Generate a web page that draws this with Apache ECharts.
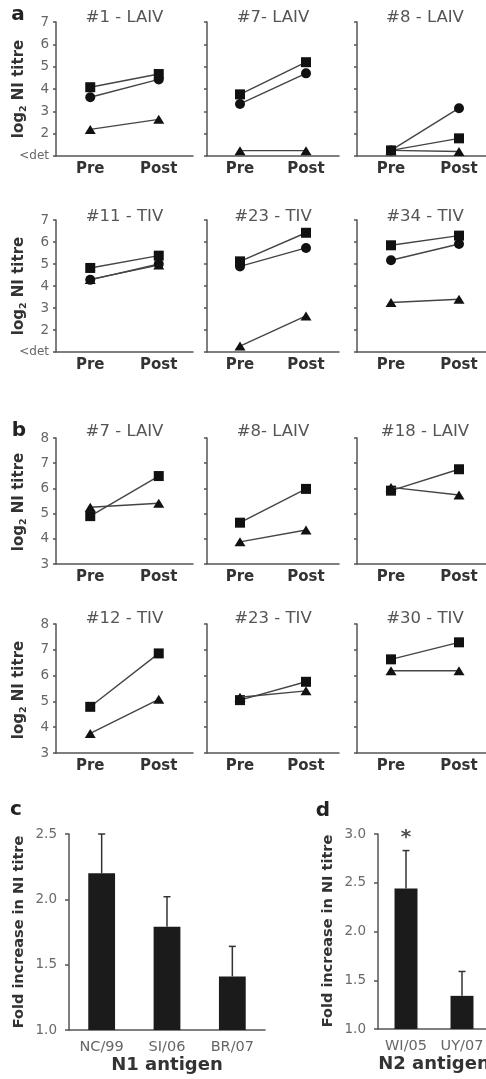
<!DOCTYPE html>
<html><head><meta charset="utf-8">
<script src="https://cdn.jsdelivr.net/npm/echarts@6/dist/echarts.min.js"></script>
<style>html,body{margin:0;padding:0;background:#fff}#c{width:486px;height:1079px}</style>
</head><body><div id="c"></div>
<script>
// ---------- DATA ----------
const prePost = ['Pre', 'Post'];
// panel a: log2 NI titre, values [Pre, Post]; 1 = "<det"
const aTitles = ['#1 - LAIV', '#7- LAIV', '#8 - LAIV', '#11 - TIV', '#23 - TIV', '#34 - TIV'];
const aSquare   = [[4.08, 4.67], [3.76, 5.20], [1.25, 1.79], [4.82, 5.38], [5.12, 6.42], [5.85, 6.29]];
const aCircle   = [[3.63, 4.43], [3.33, 4.70], [1.25, 3.14], [4.28, 5.00], [4.89, 5.73], [5.17, 5.91]];
const aTriangle = [[2.19, 2.64], [1.24, 1.24], [1.25, 1.20], [4.30, 4.95], [1.27, 2.64], [3.25, 3.40]];
const aYTicks = ['<det', '2', '3', '4', '5', '6', '7'];
// panel b
const bTitles = ['#7 - LAIV', '#8- LAIV', '#18 - LAIV', '#12 - TIV', '#23 - TIV', '#30 - TIV'];
const bSquare   = [[4.90, 6.49], [4.64, 5.98], [5.91, 6.76], [4.79, 6.86], [5.05, 5.76], [6.63, 7.29]];
const bTriangle = [[5.25, 5.41], [3.88, 4.35], [6.04, 5.74], [3.76, 5.08], [5.16, 5.41], [6.19, 6.19]];
// panel c
const cCats  = ['NC/99', 'SI/06', 'BR/07'];
const cMeans = [2.20, 1.79, 1.41];
const cUpper = [2.50, 2.02, 1.64];
// panel d
const dCats  = ['WI/05', 'UY/07'];
const dMeans = [2.44, 1.34];
const dUpper = [2.83, 1.59];
const dSig   = ['*', ''];

// ---------- LAYOUT ----------
const FONT = '"DejaVu Sans", sans-serif';
const AX = '#555';
const colLeft = [56, 207, 357], colWidth = [137, 132, 136];
const rowsA = [{top: 22, h: 134, ty: 18}, {top: 220, h: 132, ty: 216.5}];
const rowsB = [{top: 438, h: 126, ty: 431.5}, {top: 624, h: 129, ty: 619}];

const option = {
  animation: false, backgroundColor: '#fff',
  grid: [], xAxis: [], yAxis: [], series: [], graphic: []
};

function addLinePanel(p, rows, title, seriesDefs, yMin, yMax, fmt) {
  const r = rows[Math.floor(p / 3)], c = p % 3;
  const gi = option.grid.length;
  option.grid.push({left: colLeft[c], top: r.top, width: colWidth[c], height: r.h,
    containLabel: false, outerBoundsMode: 'none'});
  option.xAxis.push({
    gridIndex: gi, type: 'category', data: prePost, boundaryGap: true,
    axisLine: {lineStyle: {color: AX, width: 1.5}},
    axisTick: {alignWithLabel: true, length: 4, lineStyle: {color: AX, width: 1.5}},
    axisLabel: {margin: 6, fontSize: 15, fontWeight: 'bold', color: '#333', fontFamily: FONT}
  });
  option.yAxis.push({
    gridIndex: gi, type: 'value', min: yMin, max: yMax, interval: 1,
    axisLine: {show: true, lineStyle: {color: AX, width: 1.5}},
    axisTick: {show: true, length: 3, lineStyle: {color: AX, width: 1.5}},
    splitLine: {show: false},
    axisLabel: {show: c === 0, margin: 7, fontSize: 13.5, color: '#666', fontFamily: FONT,
      formatter: fmt, rich: {d: {fontSize: 12, color: '#666', fontFamily: FONT}}}
  });
  seriesDefs.forEach(s => {
    option.series.push({
      type: 'line', xAxisIndex: gi, yAxisIndex: gi, data: s.data,
      symbol: s.symbol, symbolSize: s.size, showSymbol: true,
      itemStyle: {color: '#111'}, lineStyle: {color: '#444', width: 1.4}, z: s.z
    });
  });
  option.graphic.push({type: 'text', x: colLeft[c] + colWidth[c] / 2, y: r.ty,
    style: {text: title, textAlign: 'center', textVerticalAlign: 'middle',
      font: '16.5px ' + FONT, fill: '#555'}});
}

const aFmt = v => (v === 1 ? '{d|<det}' : aYTicks[v - 1]);
for (let p = 0; p < 6; p++) {
  addLinePanel(p, rowsA, aTitles[p], [
    {data: aTriangle[p], symbol: 'triangle', size: [11, 9], z: 2},
    {data: aCircle[p], symbol: 'circle', size: 10, z: 3},
    {data: aSquare[p], symbol: 'rect', size: 10, z: 4}
  ], 1, 7, aFmt);
}
for (let p = 0; p < 6; p++) {
  addLinePanel(p, rowsB, bTitles[p], [
    {data: bSquare[p], symbol: 'rect', size: 10, z: 2},
    {data: bTriangle[p], symbol: 'triangle', size: [11, 9], z: 3}
  ], 3, 8, v => String(v));
}

function errRender(params, api) {
  const x = api.value(0);
  const top = api.coord([x, api.value(2)]);
  const base = api.coord([x, api.value(1)]);
  const hw = 3.5;
  const st = {stroke: '#333', lineWidth: 1.5};
  return {type: 'group', children: [
    {type: 'line', shape: {x1: top[0], y1: top[1], x2: base[0], y2: base[1]}, style: st},
    {type: 'line', shape: {x1: top[0] - hw, y1: top[1], x2: top[0] + hw, y2: top[1]}, style: st}
  ]};
}

function addBarPanel(geom, cats, means, upper, yMax, name) {
  const gi = option.grid.length;
  option.grid.push(Object.assign({containLabel: false, outerBoundsMode: 'none'}, geom));
  option.xAxis.push({
    gridIndex: gi, type: 'category', data: cats,
    name: name, nameLocation: 'middle', nameGap: 24,
    nameTextStyle: {fontSize: 18, fontWeight: 'bold', color: '#333', fontFamily: FONT},
    axisLine: {lineStyle: {color: AX, width: 1.5}},
    axisTick: {length: 4, lineStyle: {color: AX, width: 1.5}},
    axisLabel: {margin: 10, fontSize: 14.5, color: '#666', fontFamily: FONT}
  });
  option.yAxis.push({
    gridIndex: gi, type: 'value', min: 1, max: yMax, interval: 0.5,
    axisLine: {show: true, lineStyle: {color: AX, width: 1.5}},
    axisTick: {show: true, length: 4, lineStyle: {color: AX, width: 1.5}},
    splitLine: {show: false},
    axisLabel: {margin: 12, fontSize: 13.5, color: '#6a6a6a', fontFamily: FONT, formatter: v => v.toFixed(1)}
  });
  option.series.push({type: 'bar', xAxisIndex: gi, yAxisIndex: gi, data: means,
    barWidth: '41%', itemStyle: {color: '#1b1b1b'}, z: 2});
  option.series.push({type: 'custom', xAxisIndex: gi, yAxisIndex: gi,
    data: cats.map((c, i) => [i, means[i], upper[i]]), renderItem: errRender, z: 3});
  return gi;
}

addBarPanel({left: 69, top: 834, width: 196, height: 196}, cCats, cMeans, cUpper, 2.5, 'N1 antigen');
const dgi = addBarPanel({left: 378, top: 834, width: 112, height: 195}, dCats, dMeans, dUpper, 3.0, 'N2 antigen');
option.series.push({type: 'scatter', xAxisIndex: dgi, yAxisIndex: dgi, symbolSize: 0,
  data: dSig.map((s, i) => [i, 3.0, s]),
  label: {show: true, position: 'inside', offset: [0, 4], formatter: p => p.value[2],
    fontSize: 20, fontWeight: 'bold', color: '#222', fontFamily: FONT}, z: 5});

// panel letters & y titles
const letters = [['a', 18, 15], ['b', 19, 431], ['c', 16, 810], ['d', 323, 811]];
letters.forEach(l => option.graphic.push({type: 'text', x: l[1], y: l[2],
  style: {text: l[0], textAlign: 'center', textVerticalAlign: 'middle',
    font: 'bold 20px ' + FONT, fill: '#222'}}));
const logName = '{a|log}{s|2}{a| NI titre}';
const logRich = {a: {fontSize: 15, fontWeight: 'bold', fill: '#333', fontFamily: FONT, lineHeight: 20},
  s: {fontSize: 9.5, fontWeight: 'bold', fill: '#333', fontFamily: FONT, lineHeight: 10, verticalAlign: 'bottom'}};
const yTitleCenters = [89, 286, 502, 690];
yTitleCenters.forEach(cy => option.graphic.push({type: 'text', x: 19, y: cy, rotation: Math.PI / 2,
  style: {text: logName, rich: logRich, textAlign: 'center', textVerticalAlign: 'middle', fill: '#333'}}));
[[19, 932], [328, 931]].forEach(pt => option.graphic.push({type: 'text', x: pt[0], y: pt[1], rotation: Math.PI / 2,
  style: {text: 'Fold increase in NI titre', textAlign: 'center', textVerticalAlign: 'middle',
    font: 'bold 14.5px ' + FONT, fill: '#333'}}));

const chart = echarts.init(document.getElementById('c'), null, {renderer: 'canvas'});
chart.setOption(option);
</script></body></html>
